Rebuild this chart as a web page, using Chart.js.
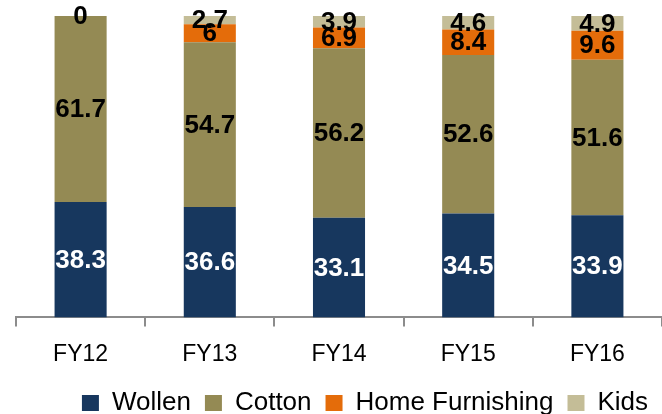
<!DOCTYPE html>
<html>
<head>
<meta charset="utf-8">
<script src="https://cdn.jsdelivr.net/npm/chart.js@4.4.1/dist/chart.umd.min.js"></script>
<style>
  html, body { margin: 0; padding: 0; background: #fff; }
  #wrap { width: 662px; height: 414px; position: relative; }
</style>
</head>
<body>
<div id="wrap"><canvas id="chart"></canvas></div>
<script>
// segment share by year (%)
const categories = ['FY12', 'FY13', 'FY14', 'FY15', 'FY16'];
const wollen = [38.3, 36.6, 33.1, 34.5, 33.9];
const cotton = [61.7, 54.7, 56.2, 52.6, 51.6];
const homeFurnishing = [0, 6, 6.9, 8.4, 9.6];
const kids = [null, 2.7, 3.9, 4.6, 4.9];

const FONT = '"Liberation Sans", Arial, sans-serif';
// nudge legend like the original (x right, y up)
const legendShiftX = 26;
const legendShiftY = -6;

// ---------- value labels drawn in the middle of each segment ----------
const segmentLabels = {
  id: 'segmentLabels',
  afterDatasetsDraw(chart) {
    const ctx = chart.ctx;
    ctx.save();
    ctx.font = 'bold 26px ' + FONT;
    ctx.textAlign = 'center';
    ctx.textBaseline = 'middle';
    chart.data.datasets.forEach((ds, i) => {
      const meta = chart.getDatasetMeta(i);
      meta.data.forEach((bar, j) => {
        const v = ds.data[j];
        if (v === null || v === undefined) return;
        ctx.fillStyle = ds.labelColor;
        ctx.fillText(String(v), bar.x, (bar.y + bar.base) / 2 + 1);
      });
    });
    ctx.restore();
  }
};

const shiftLegend = {
  id: 'shiftLegend',
  afterLayout(chart) {
    const lg = chart.legend;
    if (lg) {
      lg.left += legendShiftX;
      lg.right += legendShiftX;
      lg.top += legendShiftY;
      lg.bottom += legendShiftY;
    }
  }
};

new Chart(document.getElementById('chart'), {
  type: 'bar',
  data: {
    labels: categories,
    datasets: [
      { label: 'Wollen', data: wollen, backgroundColor: '#17375E', labelColor: '#ffffff' },
      { label: 'Cotton', data: cotton, backgroundColor: '#948A54', labelColor: '#000000' },
      { label: 'Home Furnishing', data: homeFurnishing, backgroundColor: '#E46C0A', labelColor: '#000000' },
      { label: 'Kids', data: kids, backgroundColor: '#C4BD97', labelColor: '#000000' }
    ]
  },
  options: {
    responsive: true,
    maintainAspectRatio: false,
    animation: false,
    layout: { padding: { top: 16, left: 16, right: 0, bottom: -18 } },
    datasets: { bar: { barPercentage: 0.403, categoryPercentage: 1 } },
    scales: {
      x: {
        stacked: true,
        grid: { drawOnChartArea: false, drawTicks: true, tickLength: 9, color: '#8c8c8c', lineWidth: 2 },
        border: { display: true, color: '#8c8c8c', width: 2 },
        ticks: { color: '#000', font: { family: FONT, size: 23 }, padding: 14 }
      },
      y: {
        stacked: true,
        display: false,
        min: 0,
        max: 100
      }
    },
    plugins: {
      legend: {
        position: 'bottom',
        labels: {
          color: '#000',
          font: { family: FONT, size: 26 },
          boxWidth: 17,
          boxHeight: 16,
          padding: 14
        }
      },
      tooltip: { enabled: false }
    }
  },
  plugins: [segmentLabels, shiftLegend]
});
</script>
</body>
</html>
